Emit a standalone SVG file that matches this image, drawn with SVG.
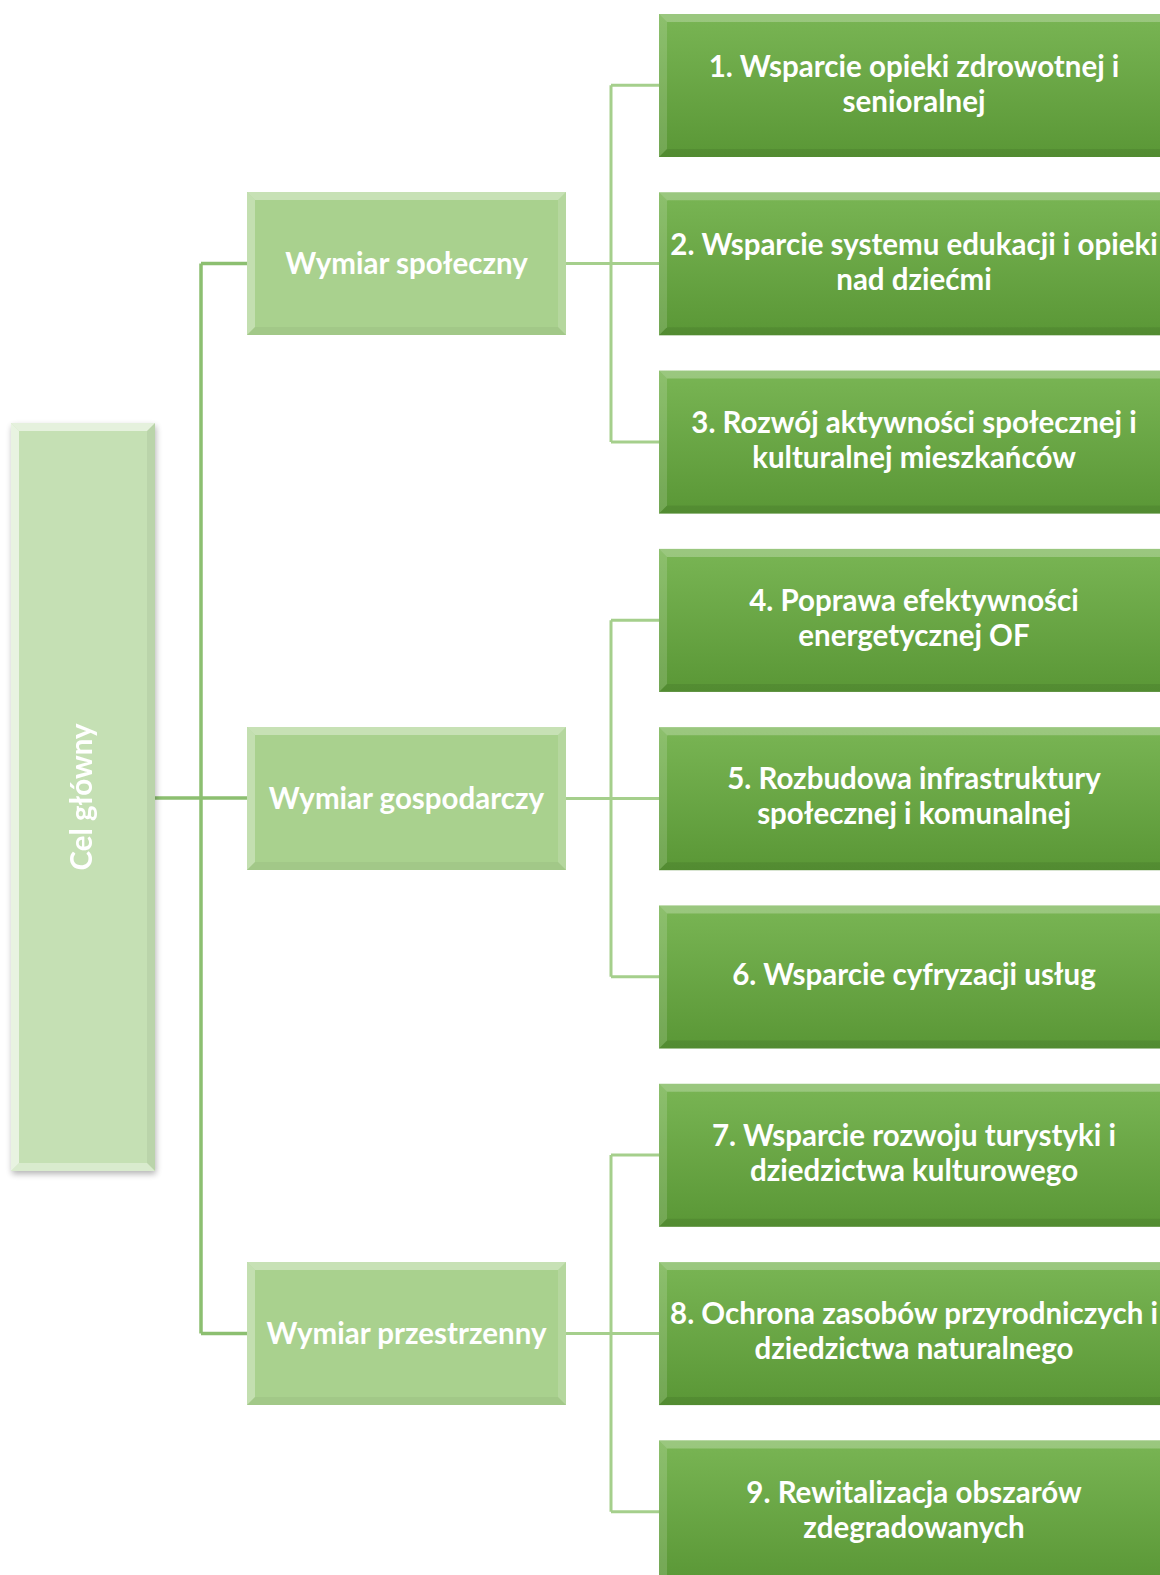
<svg xmlns="http://www.w3.org/2000/svg" width="1160" height="1575" viewBox="0 0 1160 1575">
<style>
.lbl{font-family:Lato,"Liberation Sans",sans-serif;font-weight:700;font-size:29.5px;fill:#ffffff;text-anchor:middle}
.c1{fill:none;stroke:#8cbf70;stroke-width:3.5}
.c2{fill:none;stroke:#a5cf8c;stroke-width:3}
.hl{fill:#ffffff}
.dk{fill:#000000}
</style>
<defs>
<linearGradient id="leafGrad" x1="0" y1="0" x2="0" y2="1">
<stop offset="0" stop-color="#79b554"/>
<stop offset="1" stop-color="#5a9736"/>
</linearGradient>
<filter id="shadow" x="-20%" y="-5%" width="140%" height="110%">
<feGaussianBlur in="SourceAlpha" stdDeviation="3"/>
<feOffset dx="1" dy="3" result="b"/>
<feComponentTransfer><feFuncA type="linear" slope="0.3"/></feComponentTransfer>
<feMerge><feMergeNode/><feMergeNode in="SourceGraphic"/></feMerge>
</filter>
<g id="bevelRoot">
<polygon class="hl" opacity="0.55" points="0,0 144,0 136,8 8,8"/>
<polygon class="hl" opacity="0.6" points="0,0 8,8 8,740 0,748"/>
<polygon class="dk" opacity="0.05" points="144,0 144,748 136,740 136,8"/>
<polygon class="hl" opacity="0.35" points="0,748 144,748 136,740 8,740"/>
</g>
<g id="bevelMid">
<polygon class="hl" opacity="0.35" points="0,0 319,0 311,8 8,8"/>
<polygon class="hl" opacity="0.3" points="0,0 8,8 8,135 0,143"/>
<polygon class="hl" opacity="0.15" points="319,0 319,143 311,135 311,8"/>
<polygon class="dk" opacity="0.04" points="0,143 319,143 311,135 8,135"/>
</g>
<g id="bevelLeaf">
<polygon class="hl" opacity="0.25" points="0,0 510,0 502,8 8,8"/>
<polygon class="hl" opacity="0.15" points="0,0 8,8 8,135 0,143"/>
<polygon class="dk" opacity="0.06" points="510,0 510,143 502,135 502,8"/>
<polygon class="dk" opacity="0.08" points="0,143 510,143 502,135 8,135"/>
</g>
</defs>
<rect width="1160" height="1575" fill="#ffffff"/>
<g id="connectors">
<path class="c1" d="M155,798 H247 M201,263.5 V1333.5 M201,263.5 H247 M201,1333.5 H247"/>
<path class="c2" d="M566,263.5 H659 M611,85.3 V441.9 M611,85.3 H659 M611,441.9 H659"/>
<path class="c2" d="M566,798.5 H659 M611,620.2 V976.8 M611,620.2 H659 M611,976.8 H659"/>
<path class="c2" d="M566,1333.4 H659 M611,1155.1 V1511.7 M611,1155.1 H659 M611,1511.7 H659"/>
</g>
<g id="root" filter="url(#shadow)">
<rect x="11" y="423" width="144" height="748" fill="#c5e0b4"/>
<use href="#bevelRoot" x="11" y="423"/>
<text class="lbl" transform="translate(92,797) rotate(-90)" text-anchor="middle">Cel główny</text>
</g>
<g id="mid1">
<rect x="247" y="192" width="319" height="143" fill="#a9d18e"/>
<use href="#bevelMid" x="247" y="192"/>
<text class="lbl" x="406.5" y="274">Wymiar społeczny</text>
</g>
<g id="mid2">
<rect x="247" y="727" width="319" height="143" fill="#a9d18e"/>
<use href="#bevelMid" x="247" y="727"/>
<text class="lbl" x="406.5" y="809">Wymiar gospodarczy</text>
</g>
<g id="mid3">
<rect x="247" y="1262" width="319" height="143" fill="#a9d18e"/>
<use href="#bevelMid" x="247" y="1262"/>
<text class="lbl" x="406.5" y="1344">Wymiar przestrzenny</text>
</g>
<g id="leaf1">
<rect x="659" y="14" width="510" height="143" fill="url(#leafGrad)"/>
<use href="#bevelLeaf" x="659" y="14"/>
<text class="lbl" x="914" y="77">1. Wsparcie opieki zdrowotnej i</text>
<text class="lbl" x="914" y="112">senioralnej</text>
</g>
<g id="leaf2">
<rect x="659" y="192.3" width="510" height="143" fill="url(#leafGrad)"/>
<use href="#bevelLeaf" x="659" y="192.3"/>
<text class="lbl" x="914" y="255">2. Wsparcie systemu edukacji i opieki</text>
<text class="lbl" x="914" y="290">nad dziećmi</text>
</g>
<g id="leaf3">
<rect x="659" y="370.6" width="510" height="143" fill="url(#leafGrad)"/>
<use href="#bevelLeaf" x="659" y="370.6"/>
<text class="lbl" x="914" y="433">3. Rozwój aktywności społecznej i</text>
<text class="lbl" x="914" y="468">kulturalnej mieszkańców</text>
</g>
<g id="leaf4">
<rect x="659" y="548.9" width="510" height="143" fill="url(#leafGrad)"/>
<use href="#bevelLeaf" x="659" y="548.9"/>
<text class="lbl" x="914" y="611">4. Poprawa efektywności</text>
<text class="lbl" x="914" y="646">energetycznej OF</text>
</g>
<g id="leaf5">
<rect x="659" y="727.2" width="510" height="143" fill="url(#leafGrad)"/>
<use href="#bevelLeaf" x="659" y="727.2"/>
<text class="lbl" x="914" y="789">5. Rozbudowa infrastruktury</text>
<text class="lbl" x="914" y="824">społecznej i komunalnej</text>
</g>
<g id="leaf6">
<rect x="659" y="905.5" width="510" height="143" fill="url(#leafGrad)"/>
<use href="#bevelLeaf" x="659" y="905.5"/>
<text class="lbl" x="914" y="985">6. Wsparcie cyfryzacji usług</text>
</g>
<g id="leaf7">
<rect x="659" y="1083.8" width="510" height="143" fill="url(#leafGrad)"/>
<use href="#bevelLeaf" x="659" y="1083.8"/>
<text class="lbl" x="914" y="1146">7. Wsparcie rozwoju turystyki i</text>
<text class="lbl" x="914" y="1181">dziedzictwa kulturowego</text>
</g>
<g id="leaf8">
<rect x="659" y="1262.1" width="510" height="143" fill="url(#leafGrad)"/>
<use href="#bevelLeaf" x="659" y="1262.1"/>
<text class="lbl" x="914" y="1324">8. Ochrona zasobów przyrodniczych i</text>
<text class="lbl" x="914" y="1359">dziedzictwa naturalnego</text>
</g>
<g id="leaf9">
<rect x="659" y="1440.4" width="510" height="143" fill="url(#leafGrad)"/>
<use href="#bevelLeaf" x="659" y="1440.4"/>
<text class="lbl" x="914" y="1503">9. Rewitalizacja obszarów</text>
<text class="lbl" x="914" y="1538">zdegradowanych</text>
</g>
</svg>
